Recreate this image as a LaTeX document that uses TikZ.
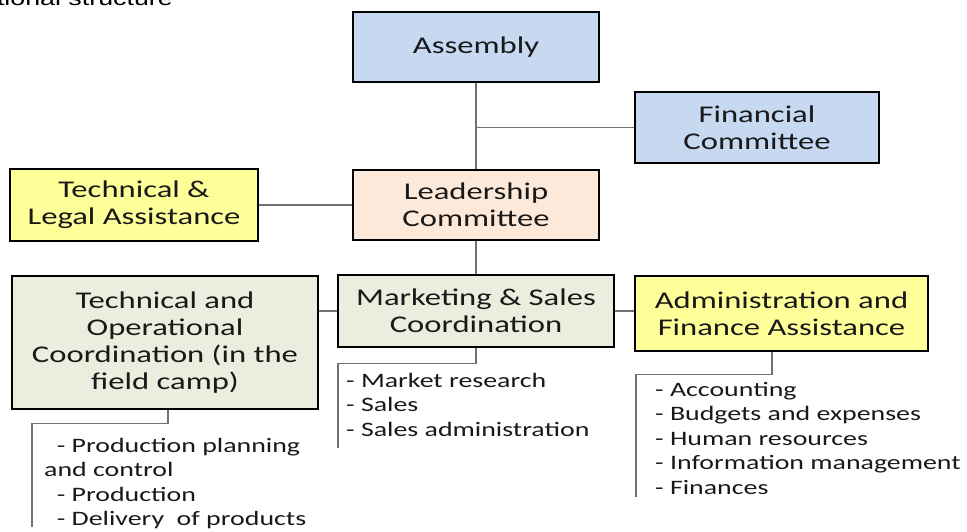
\documentclass[tikz,border=0pt]{standalone}
\usepackage{fontspec}
\newfontfamily\boxfont[FakeStretch=1.36]{Carlito}
\newfontfamily\titlefont[FakeStretch=1.34]{Liberation Sans}
\definecolor{blueF}{HTML}{C6D9F1}
\definecolor{peachF}{HTML}{FDE9D9}
\definecolor{yellowF}{HTML}{FFFF99}
\definecolor{greenF}{HTML}{EBEEDF}
\definecolor{lineC}{HTML}{707070}
\tikzset{
  box/.style={draw=black, line width=2.6pt, align=center, inner sep=0pt,
    font=\boxfont\fontsize{24}{27}\selectfont, text=black!90},
  conn/.style={draw=lineC, line width=1.4pt},
  listtxt/.style={align=left, inner sep=0pt, anchor=north west,
    font=\boxfont\fontsize{20.5}{24.5}\selectfont, text=black!90}
}
\begin{document}
\begin{tikzpicture}[x=1pt,y=-1pt]
\useasboundingbox (0,0) rectangle (967,532);
\fill[white] (0,0) rectangle (967,532);
\node[anchor=base east, inner sep=0pt, font=\titlefont\fontsize{20}{24}\selectfont] (title) at (173,6) {Organizational structure};

\node[box, fill=blueF, minimum width=246pt, minimum height=70pt] (asm) at (476,47) {Assembly};
\node[box, fill=blueF, minimum width=244pt, minimum height=71pt] (fin) at (757,127.5) {Financial\\Committee};
\node[box, fill=peachF, minimum width=246pt, minimum height=70pt] (lead) at (476,205) {Leadership\\Committee};
\node[box, fill=yellowF, minimum width=248pt, minimum height=72pt] (tla) at (134,205) {Technical \&\\Legal Assistance};
\node[box, fill=greenF, minimum width=276pt, minimum height=72pt] (mkt) at (476,311) {Marketing \& Sales\\Coordination};
\node[box, fill=greenF, minimum width=306pt, minimum height=133pt] (toc) at (165,342.5) {Technical and\\Operational\\Coordination (in the\\field camp)};
\node[box, fill=yellowF, minimum width=293pt, minimum height=75pt] (adm) at (781.5,313.5) {Administration and\\Finance Assistance};

\coordinate (tocend) at (32,527);
\coordinate (mktend) at (338,448);
\coordinate (admend) at (636,497);

\draw[conn] (asm.south) -- (lead.north);
\draw[conn] (asm.south |- fin.west) -- (fin.west);
\draw[conn] (tla.east) -- (lead.west);
\draw[conn] (lead.south) -- (mkt.north);
\draw[conn] (mkt.west) -- (mkt.west -| toc.east);
\draw[conn] (mkt.east) -- (mkt.east -| adm.west);
\draw[conn] ([xshift=3pt]toc.south) -- ++(0,13) -| (tocend);
\draw[conn] (mkt.south) -- ++(0,15) -| (mktend);
\draw[conn] ([xshift=-9.5pt]adm.south) -- ++(0,22) -| (admend);

\node[listtxt] (toclist) at (44,438) {\ \ - Production planning\\and control\\\ \ - Production\\\ \ - Delivery\ \ of products};
\node[listtxt] (mktlist) at (346,373) {- Market research\\- Sales\\- Sales administration};
\node[listtxt] (admlist) at (655,382) {- Accounting\\- Budgets and expenses\\- Human resources\\- Information management\\- Finances};
\end{tikzpicture}
\end{document}
